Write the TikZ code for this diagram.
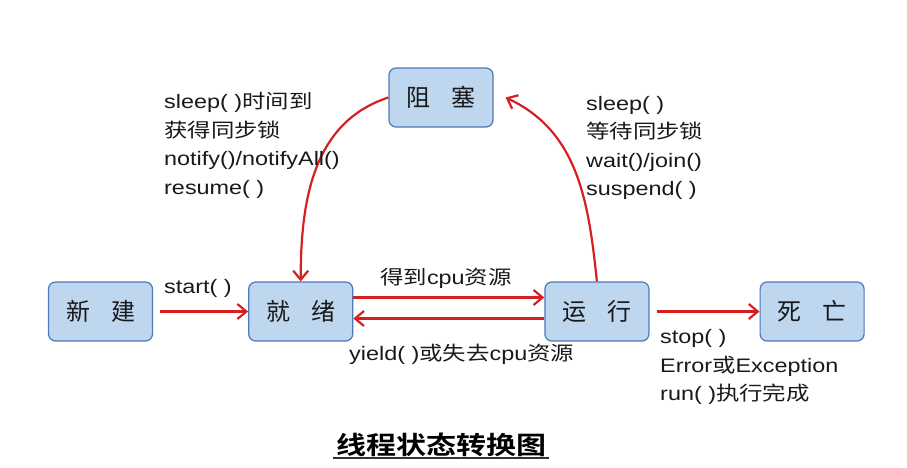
\documentclass[tikz,border=0pt]{standalone}
\usepackage{fontspec}
\setmainfont{Liberation Sans}[FakeStretch=1.2]
\newfontfamily\cjk{Noto Sans CJK SC}[FakeStretch=1.2]
\newfontfamily\cjkbox{Noto Sans CJK SC}
\newfontfamily\cjktitle{Noto Sans CJK SC Bold}[FakeStretch=1.2]
\usetikzlibrary{arrows.meta, positioning}
\definecolor{statefill}{RGB}{190,214,238}
\definecolor{stateline}{RGB}{78,120,184}
\definecolor{flowred}{RGB}{212,32,32}
\definecolor{labtext}{RGB}{25,25,25}

\begin{document}
\begin{tikzpicture}[
    x=1pt, y=1pt,
    state/.style={draw=stateline, fill=statefill, line width=1.2pt, rounded corners=7pt, minimum width=104pt, minimum height=59pt, inner sep=0pt, text=labtext, font=\cjkbox\fontsize{24}{24}\selectfont},
    lab/.style={font=\fontsize{19.5}{28.5}\selectfont, text=labtext, inner sep=0pt, align=left, anchor=west},
    flow/.style={-{Straight Barb[length=9pt, width=15pt]}, line width=2.2pt, draw=flowred},
  ]
  \useasboundingbox (0,0) rectangle (907,-467);
  % ---- states
  \node[state] (new) at (100.5,-311.5) {新\hspace{21pt}建};
  \node[state, right=95pt of new] (ready) {就\hspace{21pt}绪};
  \node[state, right=191pt of ready] (run) {运\hspace{21pt}行};
  \node[state, right=110pt of run] (dead) {死\hspace{21pt}亡};
  \node[state] (block) at (441,-97.5) {阻\hspace{21pt}塞};
  % ---- arrows
  \draw[flow] ([xshift=7pt]new.east) -- (ready.west);
  \draw[flow] ([yshift=14pt]ready.east) -- ([yshift=14pt]run.west);
  \draw[flow] ([yshift=-7pt]run.west) -- ([yshift=-7pt]ready.east);
  \draw[flow] ([xshift=7pt]run.east) -- (dead.west);
  \draw[flow] (run.north) to[out=96, in=-25] ([xshift=12pt]block.east);
  \draw[flow] (block.west) to[out=198, in=90] (ready.north);
  % ---- labels
  \node[lab] (wake) at (164,-145.5) {sleep( ){\cjk 时间到}\\{\cjk 获得同步锁}\\notify()/notifyAll()\\resume( )};
  \node[lab] (wait) at (586,-148) {sleep( )\\{\cjk 等待同步锁}\\wait()/join()\\suspend( )};
  \node[lab] (start) at (164,-288) {start( )};
  \node[lab] (getcpu) at (380,-278) {{\cjk 得到}cpu{\cjk 资源}};
  \node[lab] (yield) at (349,-354) {yield( ){\cjk 或失去}cpu{\cjk 资源}};
  \node[lab] (stop) at (660,-367) {stop( )\\Error{\cjk 或}Exception\\run( ){\cjk 执行完成}};
  % ---- title
  \node[inner xsep=3pt, inner ysep=1pt, font=\cjktitle\fontsize{25}{25}\selectfont] (title) at (441,-445) {线程状态转换图};
  \draw[line width=1.5pt, black!80] (title.south west) -- (title.south east);
\end{tikzpicture}
\end{document}
